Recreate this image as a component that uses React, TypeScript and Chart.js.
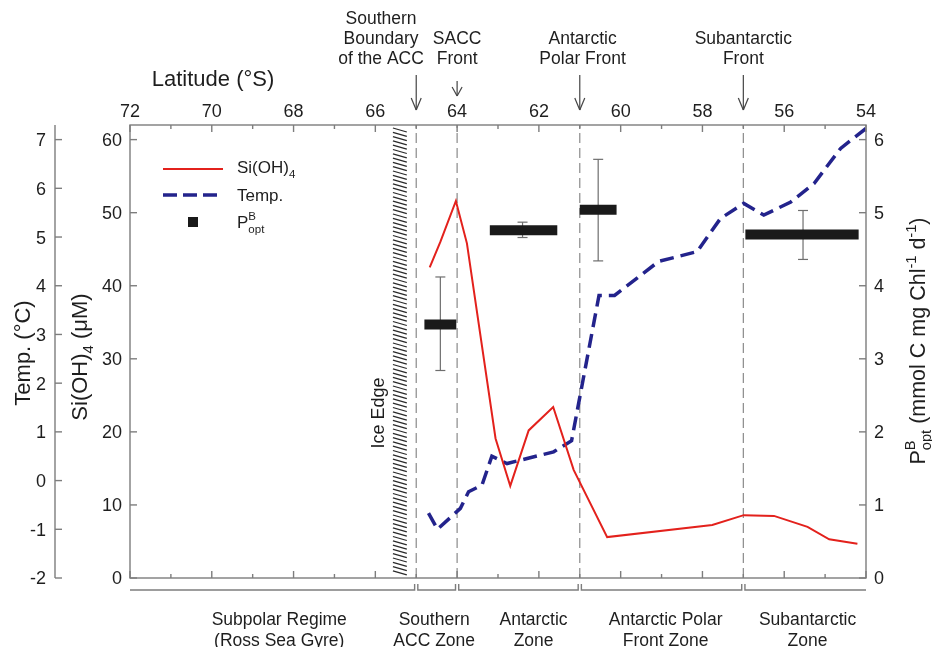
import React, { useEffect, useRef } from "react";
import { Chart, registerables } from "chart.js";
Chart.register(...registerables);

// ---------- data ----------
const latTicks = [72, 70, 68, 66, 64, 62, 60, 58, 56, 54];
const siTicks = [0, 10, 20, 30, 40, 50, 60];
const tempTicks = [-2, -1, 0, 1, 2, 3, 4, 5, 6, 7];
const pbTicks = [0, 1, 2, 3, 4, 5, 6];

const siLat = [64.67, 64.41, 64.03, 63.76, 63.06, 62.7, 62.25, 61.65, 61.15, 60.33, 57.76, 56.99, 56.25, 55.43, 54.9, 54.21];
const siVal = [42.5, 46.0, 51.6, 45.8, 19.1, 12.6, 20.2, 23.4, 14.8, 5.6, 7.25, 8.6, 8.5, 7.0, 5.3, 4.7];

const tempLat = [64.7, 64.48, 63.92, 63.72, 63.39, 63.15, 62.78, 61.64, 61.2, 60.53, 60.15, 59.07, 58.13, 57.56, 56.99, 56.5, 55.84, 55.27, 54.62, 54.0];
const tempVal = [-0.67, -1.0, -0.57, -0.23, -0.09, 0.5, 0.35, 0.59, 0.82, 3.8, 3.8, 4.5, 4.7, 5.38, 5.69, 5.45, 5.72, 6.1, 6.82, 7.23];

const pbFrom = [64.8, 63.2, 61.0, 56.95];
const pbTo = [64.02, 61.55, 60.1, 54.18];
const pbVal = [3.47, 4.76, 5.04, 4.7];
const pbErrLat = [64.41, 62.4, 60.55, 55.54];
const pbLow = [2.84, 4.66, 4.34, 4.36];
const pbHigh = [4.12, 4.87, 5.73, 5.03];

const frontLat = [65, 64, 61, 57];
const frontLabelLat = [65.86, 64.0, 60.93, 57.0];
const frontLabels = [
  ["Southern", "Boundary", "of the ACC"],
  ["SACC", "Front"],
  ["Antarctic", "Polar Front"],
  ["Subantarctic", "Front"],
];
const zoneEdges = [72, 65, 64, 61, 57, 54];
const zoneLabelLat = [68.35, 64.56, 62.13, 58.9, 55.43];
const zoneLabels = [
  ["Subpolar Regime", "(Ross Sea Gyre)"],
  ["Southern", "ACC Zone"],
  ["Antarctic", "Zone"],
  ["Antarctic Polar", "Front Zone"],
  ["Subantarctic", "Zone"],
];
const iceEdgeLat = [65.57, 65.23];

// ---------- style ----------
const FONT = '"Liberation Sans", Arial, Helvetica, sans-serif';
const TXT = "#1e1e1e";
const AX = "#7d7d7d";
const RED = "#e3211c";
const BLUE = "#23238c";

type Seg = { t?: string; k?: "n" | "sub" | "sup" | "ss"; sup?: string; sub?: string };
const fnt = (s: number) => `${s}px ${FONT}`;

function segW(ctx: CanvasRenderingContext2D, s: Seg, size: number) {
  const small = size * 0.68;
  if (s.k === "ss") {
    ctx.font = fnt(small);
    return Math.max(ctx.measureText(s.sup || "").width, ctx.measureText(s.sub || "").width);
  }
  ctx.font = fnt(s.k === "sub" || s.k === "sup" ? small : size);
  return ctx.measureText(s.t || "").width;
}

function drawRich(
  ctx: CanvasRenderingContext2D,
  segs: Seg[],
  x: number,
  y: number,
  size: number,
  align: "left" | "center" | "right" = "center",
  rot = 0
) {
  ctx.save();
  ctx.translate(x, y);
  ctx.rotate(rot);
  const widths = segs.map((s) => segW(ctx, s, size));
  const total = widths.reduce((a, b) => a + b, 0);
  let cx = align === "center" ? -total / 2 : align === "right" ? -total : 0;
  ctx.textAlign = "left";
  ctx.textBaseline = "alphabetic";
  ctx.fillStyle = TXT;
  const base = size * 0.36;
  const small = size * 0.68;
  segs.forEach((s, i) => {
    if (s.k === "ss") {
      ctx.font = fnt(small);
      ctx.fillText(s.sup || "", cx, base - size * 0.45);
      ctx.fillText(s.sub || "", cx, base + size * 0.3);
    } else if (s.k === "sup") {
      ctx.font = fnt(small);
      ctx.fillText(s.t || "", cx, base - size * 0.42);
    } else if (s.k === "sub") {
      ctx.font = fnt(small);
      ctx.fillText(s.t || "", cx, base + size * 0.28);
    } else {
      ctx.font = fnt(size);
      ctx.fillText(s.t || "", cx, base);
    }
    cx += widths[i];
  });
  ctx.restore();
}

const txt = (ctx: CanvasRenderingContext2D, t: string, x: number, y: number, size: number, align: "left" | "center" | "right" = "center", rot = 0) =>
  drawRich(ctx, [{ t }], x, y, size, align, rot);

function line(ctx: CanvasRenderingContext2D, x1: number, y1: number, x2: number, y2: number) {
  ctx.beginPath();
  ctx.moveTo(x1, y1);
  ctx.lineTo(x2, y2);
  ctx.stroke();
}

const decorPlugin = {
  id: "decor",
  beforeDatasetsDraw(chart: any) {
    const ctx: CanvasRenderingContext2D = chart.ctx;
    const xs = chart.scales.x;
    const { top, bottom } = chart.chartArea;
    // ice edge hatch
    const x0 = xs.getPixelForValue(iceEdgeLat[0]);
    const x1 = xs.getPixelForValue(iceEdgeLat[1]);
    ctx.save();
    ctx.strokeStyle = "#2a2a2a";
    ctx.lineWidth = 1.3;
    for (let y = top + 3; y < bottom - 6; y += 4.3) {
      line(ctx, x0, y, x1, y + 4);
    }
    ctx.restore();
    txt(ctx, "Ice Edge", x0 - 15, 413, 18, "center", -Math.PI / 2);
  },
  afterDraw(chart: any) {
    const ctx: CanvasRenderingContext2D = chart.ctx;
    const xs = chart.scales.x;
    const ySi = chart.scales.ySi;
    const yT = chart.scales.yTemp;
    const yP = chart.scales.yPB;
    const { left, right, top, bottom } = chart.chartArea;
    ctx.save();
    ctx.strokeStyle = AX;
    ctx.lineWidth = 1.4;
    // frame
    ctx.strokeRect(left, top, right - left, bottom - top);
    // lat ticks top/bottom
    for (let lat = 72; lat >= 54; lat--) {
      const x = xs.getPixelForValue(lat);
      const major = lat % 2 === 0;
      const len = major ? 7 : 4;
      line(ctx, x, top, x, top + len);
      line(ctx, x, bottom, x, bottom - len);
    }
    // Si ticks
    siTicks.forEach((v) => {
      const y = ySi.getPixelForValue(v);
      line(ctx, left, y, left + 7, y);
    });
    // PB ticks
    pbTicks.forEach((v) => {
      const y = yP.getPixelForValue(v);
      line(ctx, right, y, right - 7, y);
    });
    // Temp axis
    const tx = 55;
    line(ctx, tx, top, tx, bottom);
    tempTicks.forEach((v) => {
      const y = yT.getPixelForValue(v);
      line(ctx, tx, y, tx + 7, y);
    });
    ctx.restore();

    // tick labels
    latTicks.forEach((v) => txt(ctx, String(v), xs.getPixelForValue(v), 111, 18));
    siTicks.forEach((v) => txt(ctx, String(v), 122, ySi.getPixelForValue(v), 18, "right"));
    pbTicks.forEach((v) => txt(ctx, String(v), 874, yP.getPixelForValue(v), 18, "left"));
    tempTicks.forEach((v) => txt(ctx, String(v), 46, yT.getPixelForValue(v), 18, "right"));

    // axis titles
    txt(ctx, "Latitude (°S)", 213, 78, 22);
    txt(ctx, "Temp. (°C)", 22, 353, 22, "center", -Math.PI / 2);
    drawRich(ctx, [{ t: "Si(OH)" }, { t: "4", k: "sub" }, { t: " (μM)" }], 79, 357, 22, "center", -Math.PI / 2);
    drawRich(
      ctx,
      [
        { t: "P" },
        { k: "ss", sup: "B", sub: "opt" },
        { t: " (mmol C mg Chl" },
        { t: "-1", k: "sup" },
        { t: " d" },
        { t: "-1", k: "sup" },
        { t: ")" },
      ],
      917,
      341,
      21.5,
      "center",
      -Math.PI / 2
    );

    // fronts: labels and arrows
    const arrowTop = [75, 81, 75, 75];
    const arrowBot = [110, 96, 110, 110];
    frontLat.forEach((lat, i) => {
      const cx = xs.getPixelForValue(frontLabelLat[i]);
      const lines = frontLabels[i];
      lines.forEach((s, j) => {
        const y = 57.5 - (lines.length - 1 - j) * 20;
        txt(ctx, s, cx, y, 17.5);
      });
      const ax = xs.getPixelForValue(lat);
      ctx.save();
      ctx.strokeStyle = "#444";
      ctx.lineWidth = 1.2;
      line(ctx, ax, arrowTop[i], ax, arrowBot[i]);
      const h = i === 1 ? 9 : 12;
      line(ctx, ax - 5, arrowBot[i] - h, ax, arrowBot[i]);
      line(ctx, ax + 5, arrowBot[i] - h, ax, arrowBot[i]);
      ctx.restore();
    });

    // zone brackets
    ctx.save();
    ctx.strokeStyle = AX;
    ctx.lineWidth = 1.4;
    const by = 590;
    for (let i = 0; i < zoneEdges.length - 1; i++) {
      const xa = xs.getPixelForValue(zoneEdges[i]) + (i === 0 ? 0 : 1.6);
      const xb = xs.getPixelForValue(zoneEdges[i + 1]) - (i === zoneEdges.length - 2 ? 0 : 1.6);
      ctx.beginPath();
      if (i > 0) {
        ctx.moveTo(xa, by - 6);
        ctx.lineTo(xa, by);
      } else ctx.moveTo(xa, by);
      ctx.lineTo(xb, by);
      if (i < zoneEdges.length - 2) ctx.lineTo(xb, by - 6);
      ctx.stroke();
    }
    ctx.restore();
    zoneLabels.forEach((ls, i) => {
      const cx = xs.getPixelForValue(zoneLabelLat[i]);
      ls.forEach((s, j) => txt(ctx, s, cx, 619 + j * 21, 17.5));
    });

    // legend
    ctx.save();
    ctx.strokeStyle = RED;
    ctx.lineWidth = 2;
    line(ctx, 163, 169, 223, 169);
    ctx.strokeStyle = BLUE;
    ctx.lineWidth = 3.5;
    ctx.setLineDash([14, 6]);
    line(ctx, 163, 195, 219, 195);
    ctx.setLineDash([]);
    ctx.fillStyle = "#1a1a1a";
    ctx.fillRect(188, 217, 10, 10);
    ctx.restore();
    drawRich(ctx, [{ t: "Si(OH)" }, { t: "4", k: "sub" }], 237, 167, 17, "left");
    txt(ctx, "Temp.", 237, 195, 17, "left");
    drawRich(ctx, [{ t: "P" }, { k: "ss", sup: "B", sub: "opt" }], 237, 222, 17, "left");
  },
};

export default function App() {
  const ref = useRef<HTMLCanvasElement | null>(null);
  useEffect(() => {
    if (!ref.current) return;
    const datasets: any[] = [];
    datasets.push({
      data: siLat.map((x, i) => ({ x, y: siVal[i] })),
      yAxisID: "ySi",
      borderColor: RED,
      borderWidth: 2,
      pointRadius: 0,
      tension: 0,
      order: 1,
    });
    datasets.push({
      data: tempLat.map((x, i) => ({ x, y: tempVal[i] })),
      yAxisID: "yTemp",
      borderColor: BLUE,
      borderWidth: 3.5,
      borderDash: [14, 7],
      pointRadius: 0,
      tension: 0,
      order: 2,
    });
    pbVal.forEach((v, i) => {
      datasets.push({
        data: [
          { x: pbFrom[i], y: v },
          { x: pbTo[i], y: v },
        ],
        yAxisID: "yPB",
        borderColor: "#1a1a1a",
        borderWidth: 10,
        borderCapStyle: "butt",
        pointRadius: 0,
        order: 0,
      });
      datasets.push({
        data: [
          { x: pbErrLat[i], y: pbLow[i] },
          { x: pbErrLat[i], y: pbHigh[i] },
        ],
        yAxisID: "yPB",
        borderColor: "#6e6e6e",
        borderWidth: 1.2,
        pointStyle: "line",
        pointRadius: 5,
        pointBorderColor: "#6e6e6e",
        pointBorderWidth: 1.2,
        order: 3,
      });
    });
    frontLat.forEach((lat) => {
      datasets.push({
        data: [
          { x: lat, y: 0 },
          { x: lat, y: 62 },
        ],
        yAxisID: "ySi",
        borderColor: "#8a8a8a",
        borderWidth: 1.2,
        borderDash: [10, 5],
        pointRadius: 0,
        order: 10,
      });
    });

    const chart = new Chart(ref.current, {
      type: "line",
      data: { datasets },
      options: {
        responsive: false,
        animation: false,
        devicePixelRatio: 1,
        layout: { padding: { left: 130, right: 66, top: 125, bottom: 69 } },
        scales: {
          x: { type: "linear", min: 54, max: 72, reverse: true, display: false },
          ySi: { type: "linear", min: 0, max: 62, display: false },
          yTemp: { type: "linear", min: -2, max: 7.3, display: false },
          yPB: { type: "linear", min: 0, max: 6.2, display: false },
        },
        plugins: { legend: { display: false }, tooltip: { enabled: false } },
        events: [],
      },
      plugins: [decorPlugin],
    } as any);
    return () => chart.destroy();
  }, []);
  return (
    <div style={{ position: "absolute", left: 0, top: 0, width: 932, height: 647, background: "#fff" }}>
      <canvas ref={ref} width={932} height={647} style={{ display: "block" }} />
    </div>
  );
}
